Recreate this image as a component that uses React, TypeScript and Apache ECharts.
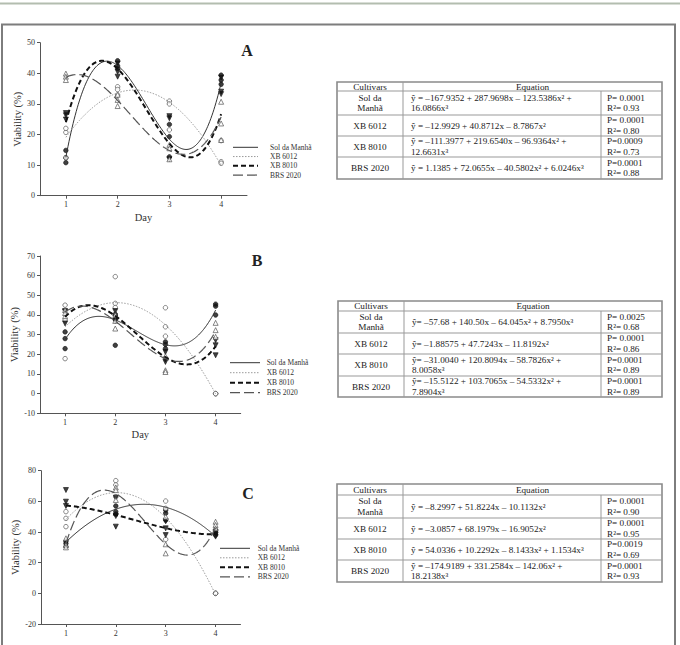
import React, { useEffect, useRef } from "react";
import * as echarts from "echarts";

// ---- data ----------------------------------------------------------------
const CULTIVARS = ["Sol da Manhã", "XB 6012", "XB 8010", "BRS 2020"];
const DAYS = [1, 2, 3, 4];

// Regression coefficients [c0, c1, c2, c3] of y = c0 + c1·x + c2·x² + c3·x³
const COEF_A = [
  [-167.9352, 287.9698, -123.5386, 16.0866],
  [-12.9929, 40.8712, -8.7867, 0],
  [-111.3977, 219.654, -96.9364, 12.6631],
  [1.1385, 72.0655, -40.5802, 6.0246],
];
const COEF_B = [
  [-57.68, 140.5, -64.045, 8.795],
  [-1.88575, 47.7243, -11.8192, 0],
  [-31.004, 120.8094, -58.7826, 8.0058],
  [-15.5122, 103.7065, -54.5332, 7.8904],
];
const COEF_C = [
  [-8.2997, 51.8224, -10.1132, 0],
  [-3.0857, 68.1979, -16.9052, 0],
  [54.0336, 10.2292, -8.1433, 1.1534],
  [-174.9189, 331.2584, -142.06, 18.2138],
];

// Observed viability (%) per cultivar, one list per day (1..4)
const OBS_A = [
  [[14.8, 12.4, 10.8], [44.1, 42.4, 41.6], [23.3, 19.3, 12.7], [39.4, 37.8, 36.4]],
  [[20.7, 12.4, 22.0], [35.6, 34.7, 32.9], [30.9, 30.0, 21.5], [11.1, 10.6, 18.0]],
  [[27.0, 26.3, 24.9], [43.2, 40.5, 38.9], [26.0, 25.3, 11.9], [34.0, 33.2, 38.6]],
  [[39.9, 38.9, 37.8], [31.3, 29.3, 33.0], [16.6, 15.5, 11.9], [30.7, 23.6, 18.2]],
];
const OBS_B = [
  [[31.4, 28.0, 22.9], [37.7, 40.4, 24.6], [26.3, 25.0, 22.9], [45.5, 44.5, 40.0]],
  [[45.0, 37.4, 17.8], [59.5, 45.9, 43.8], [43.7, 34.0, 29.2], [0, 0, 0]],
  [[42.0, 41.6, 35.7], [42.0, 38.7, 37.0], [21.2, 17.3, 16.1], [27.2, 24.6, 19.5]],
  [[42.5, 39.4, 41.0], [33.1, 37.0, 40.0], [19.0, 11.9, 11.0], [36.0, 32.3, 28.9]],
];
const OBS_C = [
  [[34.0, 32.5, 30.5], [57.0, 53.3, 51.7], [54.3, 52.2, 47.8], [41.3, 39.6, 38.0]],
  [[53.3, 48.9, 43.5], [73.5, 70.7, 63.0], [60.2, 55.4, 35.2], [0, 0, 0]],
  [[67.4, 59.8, 57.0], [62.4, 50.4, 43.5], [42.4, 38.0, 47.0], [37.0, 38.5, 40.0]],
  [[35.9, 31.5, 30.0], [69.1, 67.4, 60.9], [32.0, 26.1, 50.0], [46.7, 44.6, 42.4]],
];

// Table texts
const EQ_A = [
  ["ŷ = –167.9352 + 287.9698x – 123.5386x² +", "16.0866x³"],
  ["ŷ = –12.9929 + 40.8712x – 8.7867x²"],
  ["ŷ = –111.3977 + 219.6540x – 96.9364x² +", "12.6631x³"],
  ["ŷ = 1.1385 + 72.0655x – 40.5802x² + 6.0246x³"],
];
const STATS_A = [["P= 0.0001", "R²= 0.93"], ["P= 0.0001", "R²= 0.80"], ["P=0.0009", "R²= 0.73"], ["P=0.0001", "R²= 0.88"]];
const EQ_B = [
  ["ŷ= –57.68 + 140.50x – 64.045x² + 8.7950x³"],
  ["ŷ= –1.88575 + 47.7243x – 11.8192x²"],
  ["ŷ= –31.0040 + 120.8094x – 58.7826x² +", "8.0058x³"],
  ["ŷ= –15.5122 + 103.7065x – 54.5332x² +", "7.8904x³"],
];
const STATS_B = [["P= 0.0025", "R²= 0.68"], ["P= 0.0001", "R²= 0.86"], ["P=0.0001", "R²= 0.89"], ["P=0.0001", "R²= 0.89"]];
const EQ_C = [
  ["ŷ = –8.2997 + 51.8224x – 10.1132x²"],
  ["ŷ = –3.0857 + 68.1979x – 16.9052x²"],
  ["ŷ = 54.0336 + 10.2292x – 8.1433x² + 1.1534x³"],
  ["ŷ = –174.9189 + 331.2584x – 142.06x² +", "18.2138x³"],
];
const STATS_C = [["P= 0.0001", "R²= 0.90"], ["P= 0.0001", "R²= 0.95"], ["P=0.0019", "R²= 0.69"], ["P=0.0001", "R²= 0.93"]];
const ROW_NAMES = [["Sol da", "Manhã"], ["XB 6012"], ["XB 8010"], ["BRS 2020"]];

// ---- styles ----------------------------------------------------------------
const SERIF = '"Liberation Serif", "Times New Roman", serif';
const LINE_STYLES = [
  { color: "#333", width: 1, type: "solid" as any, dash: null as any },
  { color: "#9a9a9a", width: 1, type: [1.5, 1.5], dash: [1.5, 1.5] },
  { color: "#111", width: 2, type: [5, 3], dash: [5, 3] },
  { color: "#555", width: 1.2, type: [10, 4], dash: [10, 4] },
];
const MARKERS = [
  { symbol: "circle", size: 4.5, rotate: 0, fill: "#111", stroke: "#111" },
  { symbol: "circle", size: 4.5, rotate: 0, fill: "#fff", stroke: "#444" },
  { symbol: "triangle", size: 5, rotate: 180, fill: "#111", stroke: "#111" },
  { symbol: "triangle", size: 5, rotate: 0, fill: "#fff", stroke: "#444" },
];

const PANELS = [
  {
    letter: "A", coef: COEF_A, obs: OBS_A, eq: EQ_A, stats: STATS_A,
    grid: { left: 40, top: 42.7, width: 207, height: 153 },
    y: { min: 0, max: 50, interval: 10 }, dayName: true,
    letterPos: [247, 50],
    legend: { x: 233, w: 25, tx: 270, y0: 147.3, dy: 9.25 },
    table: { left: 337, right: 662, top: 82, header: 91, rows: [115, 136, 157, 179], c1: 403, c2: 601 },
  },
  {
    letter: "B", coef: COEF_B, obs: OBS_B, eq: EQ_B, stats: STATS_B,
    grid: { left: 40, top: 256, width: 200.7, height: 157.3 },
    y: { min: -10, max: 70, interval: 10 }, dayName: true,
    letterPos: [257, 260],
    legend: { x: 230, w: 30, tx: 266.7, y0: 362.7, dy: 10 },
    table: { left: 338, right: 662, top: 301, header: 311, rows: [333, 354, 376, 397], c1: 404, c2: 601 },
  },
  {
    letter: "C", coef: COEF_C, obs: OBS_C, eq: EQ_C, stats: STATS_C,
    grid: { left: 41, top: 470.7, width: 199.5, height: 153.3 },
    y: { min: -20, max: 80, interval: 20 }, dayName: false,
    letterPos: [248, 493],
    legend: { x: 220, w: 30, tx: 257.7, y0: 548.3, dy: 9.5 },
    table: { left: 337, right: 662, top: 484, header: 495, rows: [518, 539, 560, 582], c1: 403, c2: 601 },
  },
];

function poly(c: number[], x: number) {
  return c[0] + c[1] * x + c[2] * x * x + c[3] * x * x * x;
}
function curvePoints(c: number[]) {
  const pts: number[][] = [];
  for (let i = 0; i <= 150; i++) {
    const x = DAYS[0] + (i * (DAYS[DAYS.length - 1] - DAYS[0])) / 150;
    pts.push([x, poly(c, x)]);
  }
  return pts;
}
function obsPoints(perDay: number[][]) {
  const pts: number[][] = [];
  perDay.forEach((vals, d) => vals.forEach((v) => pts.push([DAYS[d], v])));
  return pts;
}

function txt(text: string, x: number, y: number, size: number, align = "left", weight = "normal", fill = "#222") {
  return {
    type: "text",
    silent: true,
    style: {
      text, x, y,
      font: `${weight} ${size}px ${SERIF}`,
      fill,
      textAlign: align, textVerticalAlign: "middle",
      align, verticalAlign: "middle",
    },
  };
}
function hline(x1: number, x2: number, y: number, w = 1, color = "#999", dash: any = null) {
  return {
    type: "line", silent: true, shape: { x1, y1: y, x2, y2: y },
    style: { stroke: color, lineWidth: w, lineDash: dash },
  };
}
function vline(x: number, y1: number, y2: number, w = 1, color = "#999") {
  return { type: "line", silent: true, shape: { x1: x, y1, x2: x, y2 }, style: { stroke: color, lineWidth: w } };
}

function tableGraphics(p: any) {
  const t = p.table;
  const els: any[] = [];
  const fs = 9.2;
  const lh = 10.6;
  els.push({
    type: "rect", silent: true,
    shape: { x: t.left, y: t.top, width: t.right - t.left, height: t.rows[3] - t.top },
    style: { fill: "none", stroke: "#8a8a8a", lineWidth: 1.6 },
  });
  els.push(hline(t.left, t.right, t.header));
  els.push(vline(t.c1, t.top, t.rows[3]));
  els.push(vline(t.c2, t.header, t.rows[3]));
  t.rows.slice(0, 3).forEach((y: number) => els.push(hline(t.left, t.right, y)));
  const hy = (t.top + t.header) / 2;
  els.push(txt("Cultivars", (t.left + t.c1) / 2, hy, fs, "center"));
  els.push(txt("Equation", (t.c1 + t.right) / 2, hy, fs, "center"));
  let prev = t.header;
  t.rows.forEach((bottom: number, i: number) => {
    const cy = (prev + bottom) / 2;
    const place = (lines: string[], x: number, align: string) => {
      const y0 = cy - ((lines.length - 1) * lh) / 2;
      lines.forEach((s, k) => els.push(txt(s, x, y0 + k * lh, fs, align)));
    };
    place(ROW_NAMES[i], (t.left + t.c1) / 2, "center");
    place(p.eq[i], t.c1 + 8, "left");
    place(p.stats[i], t.c2 + 6, "left");
    prev = bottom;
  });
  return els;
}

function legendGraphics(p: any) {
  const L = p.legend;
  const els: any[] = [];
  CULTIVARS.forEach((name, ci) => {
    const y = L.y0 + ci * L.dy;
    const ls = LINE_STYLES[ci];
    els.push(hline(L.x, L.x + L.w, y, ls.width, ls.color, ls.dash));
    els.push(txt(name, L.tx, y, 7.5, "left", "normal", "#333"));
  });
  return els;
}

export default function App() {
  const ref = useRef<HTMLDivElement>(null);
  useEffect(() => {
    if (!ref.current) return;
    const chart = echarts.init(ref.current, undefined, { renderer: "svg" });

    const grids: any[] = [];
    const xAxes: any[] = [];
    const yAxes: any[] = [];
    const series: any[] = [];
    const graphics: any[] = [];

    // page frame
    graphics.push(hline(0, 680, 3.5, 2, "#b3bdaf"));
    graphics.push({
      type: "rect", silent: true,
      shape: { x: 2, y: 24.5, width: 673, height: 640 },
      style: { fill: "none", stroke: "#7d7d7d", lineWidth: 2 },
    });

    const axisText = { fontFamily: SERIF, fontSize: 8, color: "#333" };
    const axisLine = { lineStyle: { color: "#555", width: 1 } };

    PANELS.forEach((p, pi) => {
      grids.push({ ...p.grid, containLabel: false });
      xAxes.push({
        type: "value", gridIndex: pi, min: 0.5, max: 4.5,
        axisLine: { ...axisLine, onZero: false },
        axisTick: { show: true, length: 3, customValues: DAYS, lineStyle: { color: "#555" } },
        axisLabel: { ...axisText, margin: 5, customValues: DAYS },
        splitLine: { show: false },
        name: p.dayName ? "Day" : "",
        nameLocation: "middle", nameGap: 16,
        nameTextStyle: { fontFamily: SERIF, fontSize: 10.5, color: "#333" },
      });
      yAxes.push({
        type: "value", gridIndex: pi, min: p.y.min, max: p.y.max, interval: p.y.interval,
        axisLine: { ...axisLine, show: true, onZero: false },
        axisTick: { show: true, length: 3, lineStyle: { color: "#555" } },
        axisLabel: { ...axisText, margin: 5 },
        splitLine: { show: false },
        name: "Viability (%)", nameLocation: "middle", nameGap: 16, nameRotate: 90,
        nameTextStyle: { fontFamily: SERIF, fontSize: 10.5, color: "#333" },
      });

      CULTIVARS.forEach((name, ci) => {
        const m = MARKERS[ci];
        series.push({
          type: "scatter", name: `${name} (${p.letter})`, xAxisIndex: pi, yAxisIndex: pi,
          data: obsPoints(p.obs[ci]), symbol: m.symbol, symbolSize: m.size, symbolRotate: m.rotate,
          itemStyle: { color: m.fill, borderColor: m.stroke, borderWidth: 0.8 },
          z: 3, silent: true,
        });
      });
      CULTIVARS.forEach((name, ci) => {
        const ls = LINE_STYLES[ci];
        series.push({
          type: "line", name: `${name} fit (${p.letter})`, xAxisIndex: pi, yAxisIndex: pi,
          data: curvePoints(p.coef[ci]), symbol: "none", showSymbol: false,
          lineStyle: { color: ls.color, width: ls.width, type: ls.type },
          itemStyle: { color: ls.color }, z: 4, silent: true,
        });
      });

      legendGraphics(p).forEach((e) => graphics.push(e));
      graphics.push(txt(p.letter, p.letterPos[0], p.letterPos[1], 16, "center", "bold"));
      tableGraphics(p).forEach((e) => graphics.push(e));
    });

    chart.setOption({
      animation: false,
      backgroundColor: "#fff",
      grid: grids, xAxis: xAxes, yAxis: yAxes, series, graphic: graphics,
    });
    return () => chart.dispose();
  }, []);

  return (
    <div
      ref={ref}
      style={{ position: "fixed", left: 0, top: 0, width: 680, height: 645, background: "#fff" }}
    />
  );
}
